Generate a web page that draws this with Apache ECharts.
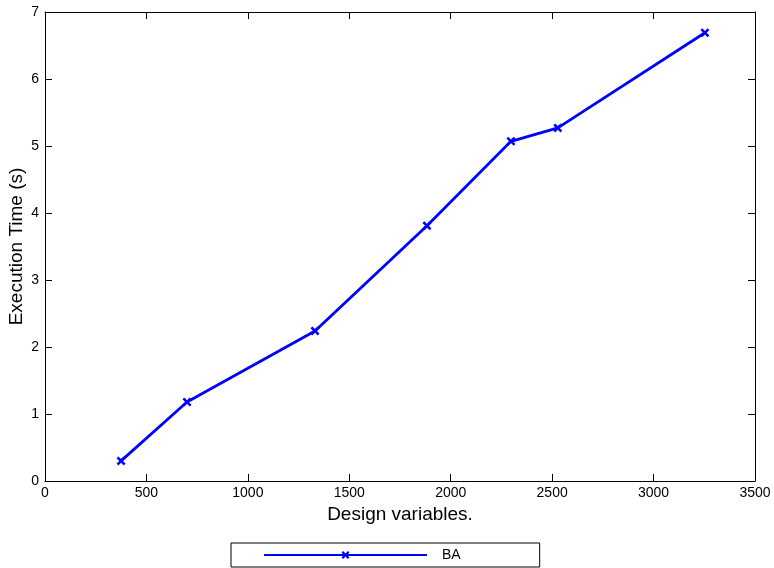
<!DOCTYPE html>
<html>
<head>
<meta charset="utf-8">
<script src="https://cdn.jsdelivr.net/npm/echarts@6/dist/echarts.min.js"></script>
<style>html,body{margin:0;padding:0;background:#fff}#c{width:774px;height:568px}</style>
</head>
<body>
<div id="c"></div>
<script>
const designVars = [375, 700, 1331, 1883, 2297, 2528, 3253];
const execTime = [0.30, 1.18, 2.24, 3.81, 5.07, 5.27, 6.69];
const seriesName = 'BA';
const xTicks = [0, 3500, 500];
const yTicks = [0, 7, 1];

const chart = echarts.init(document.getElementById('c'));
const font = 'Liberation Sans, Arial, Helvetica, sans-serif';
const axisCommon = {
  axisLine: {show: true, onZero: false, lineStyle: {color: '#000', width: 1}},
  axisTick: {show: true, inside: true, length: 7, lineStyle: {color: '#000'}},
  splitLine: {show: false}
};
const plain = v => String(v);
chart.setOption({
  animation: false,
  backgroundColor: '#fff',
  grid: {left: 45, right: 19, top: 12, bottom: 87, containLabel: false, outerBoundsMode: 'none'},
  xAxis: [
    Object.assign({type: 'value', min: xTicks[0], max: xTicks[1], interval: xTicks[2], position: 'bottom',
      name: 'Design variables.', nameLocation: 'middle', nameGap: 22,
      nameTextStyle: {color: '#000', fontSize: 19, fontFamily: font},
      axisLabel: {color: '#000', fontSize: 14, fontFamily: font, margin: 5, formatter: plain}}, axisCommon),
    Object.assign({type: 'value', min: xTicks[0], max: xTicks[1], interval: xTicks[2], position: 'top',
      axisLabel: {show: false}}, axisCommon)
  ],
  yAxis: [
    Object.assign({type: 'value', min: yTicks[0], max: yTicks[1], interval: yTicks[2], position: 'left',
      name: 'Execution Time (s)', nameLocation: 'middle', nameGap: 19, nameMoveOverlap: false,
      nameTextStyle: {color: '#000', fontSize: 19, fontFamily: font},
      axisLabel: {color: '#000', fontSize: 14, fontFamily: font, margin: 6, formatter: plain}}, axisCommon),
    Object.assign({type: 'value', min: yTicks[0], max: yTicks[1], interval: yTicks[2], position: 'right',
      axisLabel: {show: false}}, axisCommon)
  ],
  legend: {
    left: 231, top: 543,
    data: [seriesName],
    itemWidth: 163, itemHeight: 10, itemGap: 10,
    padding: [5, 79, 5, 32],
    borderColor: '#000', borderWidth: 1,
    textStyle: {color: '#000', fontSize: 14, fontFamily: font, padding: [0, 0, 0, 10]}
  },
  series: [{
    name: seriesName,
    type: 'line',
    data: designVars.map((x, i) => [x, execTime[i]]),
    lineStyle: {color: '#0000ff', width: 2.8},
    itemStyle: {color: '#0000ff'},
    symbol: 'path://M2,0 L5,3 L8,0 L10,2 L7,5 L10,8 L8,10 L5,7 L2,10 L0,8 L3,5 L0,2 Z',
    symbolSize: 9,
    showAllSymbol: true
  }]
});
</script>
</body>
</html>
